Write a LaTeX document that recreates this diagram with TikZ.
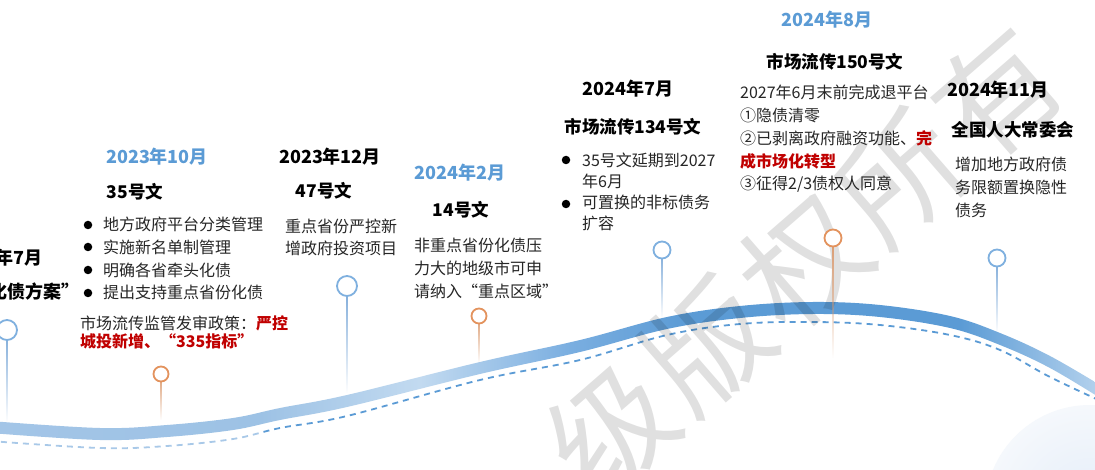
\documentclass[tikz,border=0pt]{standalone}
\usepackage{fontspec}
\setmainfont{Noto Sans CJK SC}
\usetikzlibrary{calc,fadings}
\definecolor{dateblue}{HTML}{5B9BD5}
\definecolor{redc}{HTML}{C00000}
\definecolor{txt}{HTML}{262626}
\definecolor{pinblue}{HTML}{7FB0DF}
\definecolor{pinorange}{HTML}{E3935E}
\definecolor{stemblue}{HTML}{7AA8D8}
\definecolor{stemorange}{HTML}{DB9A6E}
\definecolor{blobin}{HTML}{E4EDF8}
\definecolor{blobout}{HTML}{F5F8FC}
\definecolor{bandA}{HTML}{A3C5E7}
\definecolor{bandB}{HTML}{9DC2E5}
\definecolor{bandC}{HTML}{C2DAF0}
\definecolor{bandD}{HTML}{7AAEE0}
\definecolor{bandE}{HTML}{5B9BD5}
\definecolor{bandF}{HTML}{B8D4EE}
\definecolor{dashL}{HTML}{A9C9E8}
\tikzfading[name=stemfade, top color=transparent!0, bottom color=transparent!100]
\newcommand\pinstem[3]{\begin{scope}\clip ($(#1)+(-0.8,0)$) rectangle ($(#2)+(0.8,0)$);
  \fill[#3, path fading=stemfade] ($(#1)+(-40,0)$) rectangle ($(#2)+(40,0)$);\end{scope}}
\newcommand\wmgap{\hspace{6pt}}
\tikzset{
  datet/.style={font=\fontsize{18}{18}\selectfont\bfseries, anchor=base, inner sep=0pt},
  subt/.style={font=\fontsize{17.5}{18}\selectfont\bfseries, anchor=base, inner sep=0pt, text=black},
  body/.style={font=\fontsize{16}{23}\selectfont, anchor=base west, inner sep=0pt, align=left, text=txt},
  bulletdot/.style={circle, fill=black, inner sep=0pt, minimum size=8.5pt},
  pinb/.style={circle, draw=pinblue, line width=1.8pt, fill=white, inner sep=0pt, minimum size=#1},
  pino/.style={circle, draw=pinorange, line width=1.8pt, fill=white, inner sep=0pt, minimum size=#1},
}
\begin{document}
\begin{tikzpicture}[x=1pt,y=-1pt]
\useasboundingbox (0,0) rectangle (1095,470);
\fill[white] (0,0) rectangle (1095,470);
% faint blob bottom right
\shade[inner color=blobin, outer color=blobout] (1090,510) circle (105);

% band
\begin{scope}
\clip plot[smooth, tension=0.6] coordinates {(-10,421) (100,428) (167,425) (233,418) (280,408) (347,395) (480,362) (580,340) (667,317) (740,306) (813,302) (880,305) (950,316) (1000,333) (1050,356) (1105,388)}
  -- plot[smooth, tension=0.6] coordinates {(1105,401) (1050,368) (1000,345) (950,328) (880,317) (813,314) (740,318) (667,329) (580,352) (480,374) (347,407) (280,420) (233,430) (167,437) (100,440) (-10,433)} -- cycle;
\shade[left color=bandA, right color=bandB] (-10,280) rectangle (260,460);
\shade[left color=bandB, right color=bandC] (260,280) rectangle (420,460);
\shade[left color=bandC, right color=bandD] (420,280) rectangle (570,460);
\shade[left color=bandD, right color=bandE] (570,280) rectangle (690,460);
\fill[bandE] (690,280) rectangle (960,460);
\shade[left color=bandE, right color=bandF] (960,280) rectangle (1105,460);
\end{scope}

% dashed line
\def\dashpath{plot[smooth, tension=0.6] coordinates {(-10,441) (100,448) (167,446) (233,439) (280,428) (347,416) (480,380) (580,360) (667,335) (740,324) (813,322) (880,325) (950,335) (1000,350) (1050,377) (1105,403)}}
\begin{scope}
\clip (-10,300) rectangle (260,470);
\draw[dashL, line width=1.8pt, dash pattern=on 6pt off 5pt] \dashpath;
\end{scope}
\begin{scope}
\clip (260,280) rectangle (1105,470);
\draw[dateblue, line width=1.8pt, dash pattern=on 6pt off 5pt] \dashpath;
\end{scope}

% watermark
\node[rotate=41, text=black, text opacity=0.12, font=\fontsize{122}{122}\selectfont, inner sep=0pt] (wm) at (804,262) {级\wmgap 版\wmgap 权\wmgap 所\wmgap 有};

% pin centers and stem ends
\coordinate (c1) at (7,330);   \coordinate (s1) at (7,422);
\coordinate (c2) at (161,374); \coordinate (s2) at (161,420);
\coordinate (c3) at (347,286); \coordinate (s3) at (347,393);
\coordinate (c4) at (479,316); \coordinate (s4) at (479,363);
\coordinate (c5) at (662,250); \coordinate (s5) at (662,318);
\coordinate (c6) at (833,238); \coordinate (s6) at (833,358);
\coordinate (c7) at (997,258); \coordinate (s7) at (997,333);

\pinstem{c1}{s1}{stemblue}
\pinstem{c2}{s2}{stemorange}
\pinstem{c3}{s3}{stemblue}
\pinstem{c4}{s4}{stemorange}
\pinstem{c5}{s5}{stemblue}
\pinstem{c6}{s6}{stemorange}
\pinstem{c7}{s7}{stemblue}

\node[pinb=20pt] (p1) at (c1) {};
\node[pino=15pt] (p2) at (c2) {};
\node[pinb=20pt] (p3) at (c3) {};
\node[pino=15pt] (p4) at (c4) {};
\node[pinb=17pt] (p5) at (c5) {};
\node[pino=17pt] (p6) at (c6) {};
\node[pinb=17pt] (p7) at (c7) {};

% --- 2023.07 (cut at left edge)
\node[datet, anchor=base east, text=black] (d1) at (43,265) {年7月};
\node[datet, anchor=base east, text=black] (t1) at (80,299) {化债方案”};

% --- 2023.10
\node[datet, text=dateblue] (d2) at (157,164) {2023年10月};
\node[subt] (t2) at (135,199) {35号文};
\node[bulletdot] (b21) at (88,225) {};
\node[bulletdot] (b22) at (88,247) {};
\node[bulletdot] (b23) at (88,270) {};
\node[bulletdot] (b24) at (88,293) {};
\node[body, font=\fontsize{16}{22.7}\selectfont] (x2) at (103,299) {地方政府平台分类管理\\实施新名单制管理\\明确各省牵头化债\\提出支持重点省份化债};
\node[body, font=\fontsize{16}{18}\selectfont] (y2) at (80,348) {市场流传监管发审政策：\textcolor{redc}{\bfseries 严控}\\\textcolor{redc}{\bfseries 城投新增、“335指标”}};

% --- 2023.12
\node[datet, text=black] (d3) at (330,164) {2023年12月};
\node[subt] (t3) at (324,198) {47号文};
\node[body, font=\fontsize{16}{21.5}\selectfont] (x3) at (285,254.5) {重点省份严控新\\增政府投资项目};

% --- 2024.02
\node[datet, text=dateblue] (d4) at (460,180) {2024年2月};
\node[subt] (t4) at (461,217) {14号文};
\node[body, font=\fontsize{16}{23}\selectfont] (x4) at (414,298) {非重点省份化债压\\力大的地级市可申\\请纳入“重点区域”};

% --- 2024.07
\node[datet, text=black] (d5) at (628,96) {2024年7月};
\node[subt] (t5) at (633,134) {市场流传134号文};
\node[bulletdot] (b51) at (566,160) {};
\node[bulletdot] (b52) at (566,204) {};
\node[body, font=\fontsize{16}{21.3}\selectfont] (x5) at (582,230) {35号文延期到2027\\年6月\\可置换的非标债务\\扩容};

% --- 2024.08
\node[datet, text=dateblue] (d6) at (827,27) {2024年8月};
\node[subt] (t6) at (835,69) {市场流传150号文};
\node[body, font=\fontsize{16}{22.8}\selectfont] (x6) at (740,190) {2027年6月末前完成退平台\\①隐债清零\\②已剥离政府融资功能、\textcolor{redc}{\bfseries 完}\\\textcolor{redc}{\bfseries 成市场化转型}\\③征得2/3债权人同意};

% --- 2024.11
\node[datet, text=black] (d7) at (998,97) {2024年11月};
\node[subt] (t7) at (1013,137) {全国人大常委会};
\node[body, font=\fontsize{16}{23.4}\selectfont] (x7) at (955,217) {增加地方政府债\\务限额置换隐性\\债务};
\end{tikzpicture}
\end{document}
